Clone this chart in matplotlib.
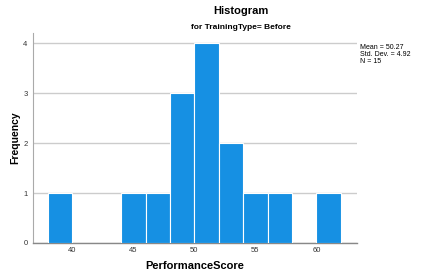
import matplotlib.pyplot as plt
import numpy as np

plt.rcParams["font.family"] = ["Liberation Sans", "DejaVu Sans"]

# histogram bins (width 2) and counts
bin_edges = np.arange(38, 64, 2)
counts = [1, 0, 0, 1, 1, 3, 4, 2, 1, 1, 0, 1]
xticks = [40, 45, 50, 55, 60]
yticks = [0, 1, 2, 3, 4]
stats_lines = ["Mean = 50.27", "Std. Dev. = 4.92", "N = 15"]

fig = plt.figure(figsize=(4.37, 2.76), dpi=100)
ax = fig.add_axes([0.0755, 0.1196, 0.7415, 0.7604])

ax.bar(bin_edges[:-1], counts, width=2, align="edge",
       color="#1690e3", edgecolor="white", linewidth=0.8, zorder=3)

ax.set_xlim(36.78, 63.33)
ax.set_ylim(0, 4.2)
ax.set_xticks(xticks)
ax.set_yticks(yticks)
ax.tick_params(length=0, labelsize=5.5, colors="#333333")
ax.tick_params(axis="x", pad=3)
ax.tick_params(axis="y", pad=4)
ax.yaxis.grid(True, color="#cccccc", linewidth=1, zorder=0)
for s in ["top", "right"]:
    ax.spines[s].set_visible(False)
ax.spines["left"].set_color("#aaaaaa")
ax.spines["left"].set_linewidth(0.8)
ax.spines["bottom"].set_color("#888888")
ax.spines["bottom"].set_linewidth(1)

ax.set_xlabel("PerformanceScore", fontsize=8, fontweight="bold", labelpad=5)
ax.set_ylabel("Frequency", fontsize=7.5, fontweight="bold", labelpad=2)

fig.text(0.5515, 0.96, "Histogram", ha="center", va="center",
         fontsize=8, fontweight="bold")
fig.text(0.5515, 0.902, "for TrainingType= Before", ha="center", va="center",
         fontsize=6, fontweight="bold")
fig.text(0.824, 0.84, "\n".join(stats_lines), ha="left", va="top",
         fontsize=5, linespacing=0.95)

fig.savefig("out.png", dpi=100)
